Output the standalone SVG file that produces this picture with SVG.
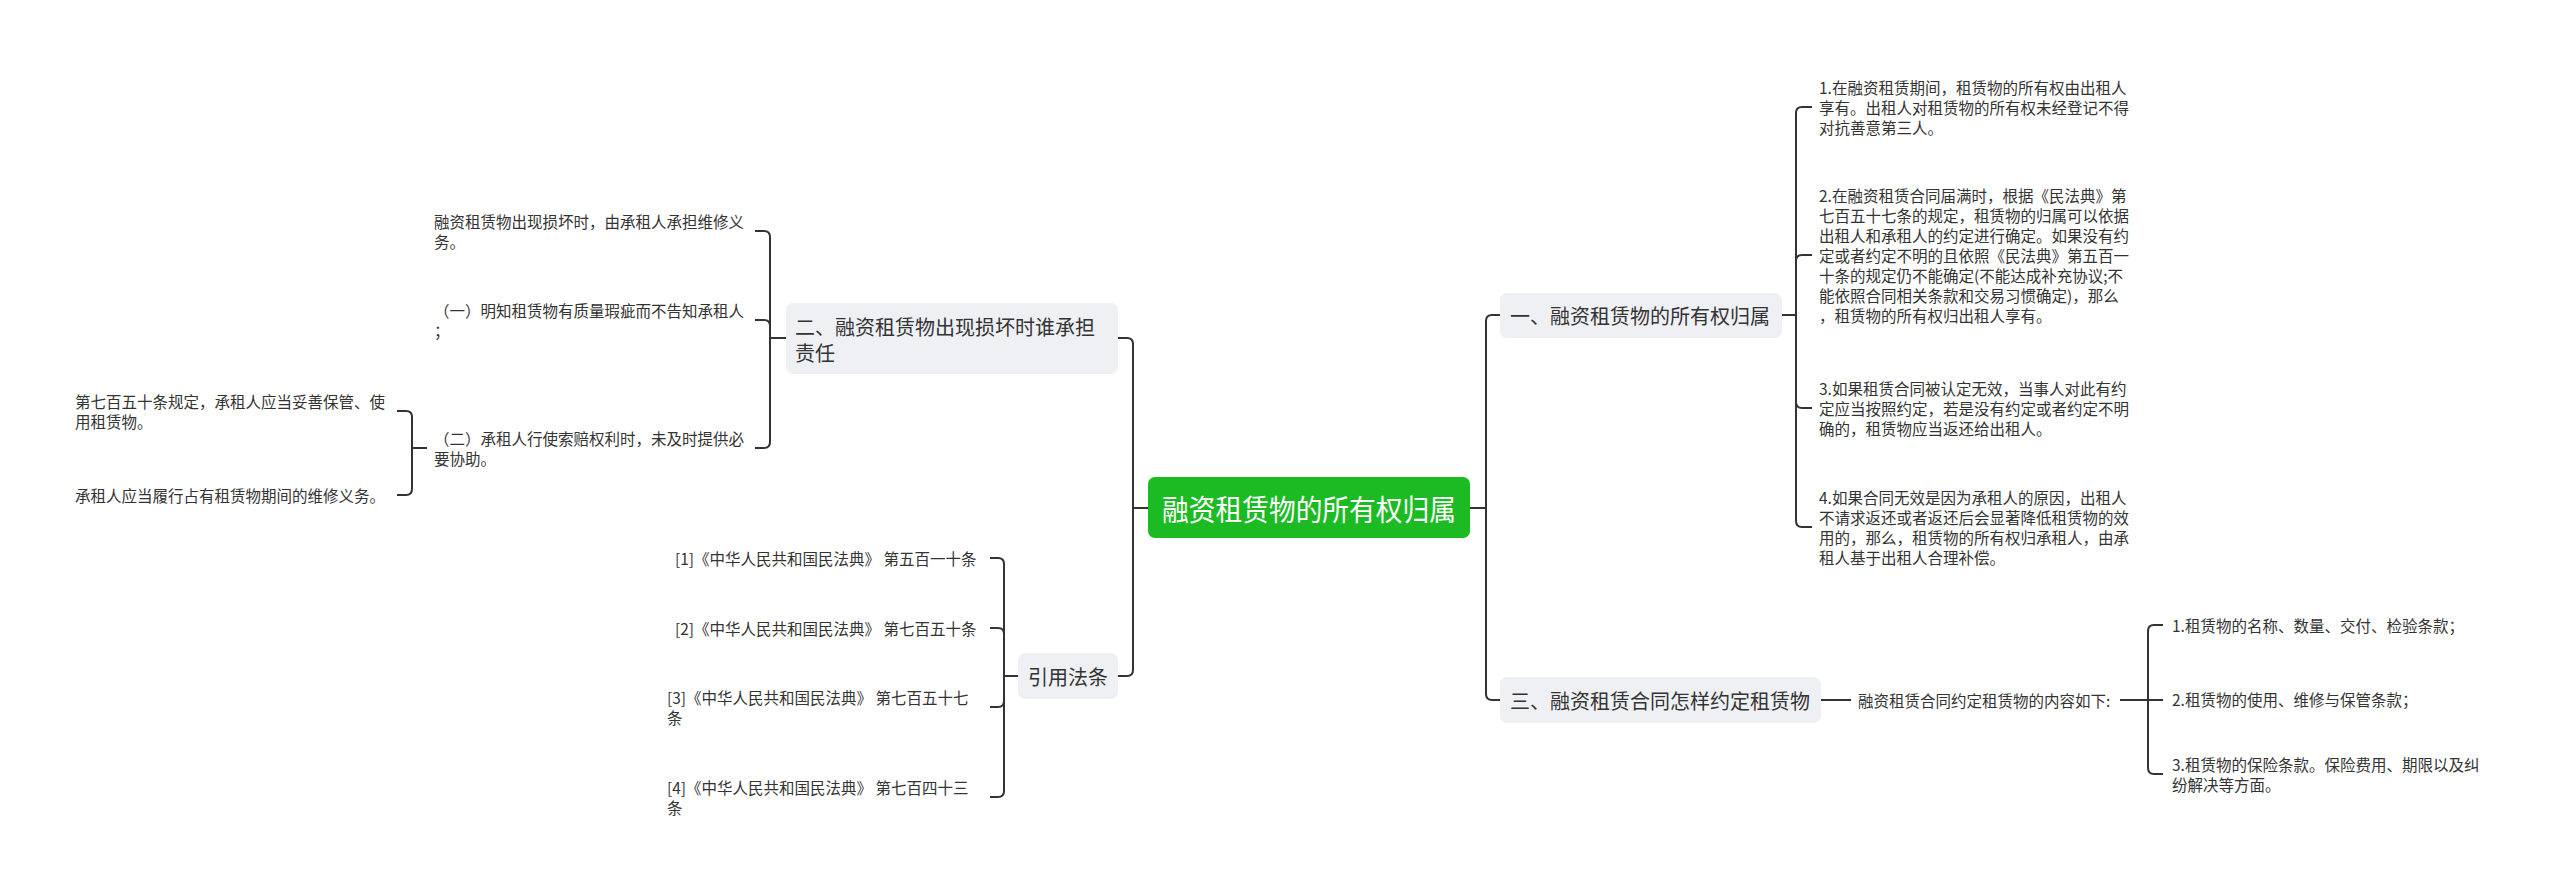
<svg xmlns="http://www.w3.org/2000/svg" width="2560" height="891" viewBox="0 0 2560 891">
<style>
text{font-family:"Noto Sans CJK SC","Noto Sans",sans-serif;fill:#333;dominant-baseline:central}
.s{font-size:15.5px}
.m{font-size:20px}
.root{font-size:29px;fill:#fff}
.box{fill:#eef0f3}
.c path{fill:none;stroke:#333;stroke-width:2}
</style>
<rect width="2560" height="891" fill="#fff"/>
<g class="c" id="connectors">
<path d="M1470 508 H1486"/>
<path d="M1486 508 V321 Q1486 315 1492 315 H1500"/>
<path d="M1486 508 V694 Q1486 700 1492 700 H1500"/>
<path d="M1782 315 H1796"/>
<path d="M1796 315 V113 Q1796 107 1802 107 H1812"/>
<path d="M1796 315 V261 Q1796 255 1802 255 H1812"/>
<path d="M1796 315 V402 Q1796 408 1802 408 H1812"/>
<path d="M1796 315 V521 Q1796 527 1802 527 H1812"/>
<path d="M1821 700 H1851"/>
<path d="M2120 700 H2148"/>
<path d="M2148 700 V631 Q2148 625 2154 625 H2163"/>
<path d="M2148 700 H2163"/>
<path d="M2148 700 V768 Q2148 774 2154 774 H2163"/>
<path d="M1148 508 H1133"/>
<path d="M1133 508 V344 Q1133 338 1127 338 H1118"/>
<path d="M1133 508 V670 Q1133 676 1127 676 H1118"/>
<path d="M786 338 H770"/>
<path d="M770 338 V237 Q770 231 764 231 H755"/>
<path d="M770 338 V326 Q770 320 764 320 H755"/>
<path d="M770 338 V442 Q770 448 764 448 H755"/>
<path d="M427 448 H412"/>
<path d="M412 448 V417 Q412 411 406 411 H397"/>
<path d="M412 448 V489 Q412 495 406 495 H397"/>
<path d="M1018 676 H1004"/>
<path d="M1004 676 V564 Q1004 558 998 558 H990"/>
<path d="M1004 676 V634 Q1004 628 998 628 H990"/>
<path d="M1004 676 V701 Q1004 707 998 707 H990"/>
<path d="M1004 676 V791 Q1004 797 998 797 H990"/>
</g>
<g id="root">
<rect x="1148" y="477" width="322" height="61" rx="7" fill="#1cbb24"/>
<text class="root" x="1162" y="508" textLength="294" lengthAdjust="spacingAndGlyphs">融资租赁物的所有权归属</text>
</g>
<g id="n1">
<rect class="box" x="1500" y="293" width="282" height="45" rx="7"/>
<text class="m" x="1510" y="315.5">一、融资租赁物的所有权归属</text>
</g>
<g id="n1a">
<text class="s" x="1819" y="87">1.在融资租赁期间，租赁物的所有权由出租人</text>
<text class="s" x="1819" y="107">享有。出租人对租赁物的所有权未经登记不得</text>
<text class="s" x="1819" y="127">对抗善意第三人。</text>
</g>
<g id="n1b">
<text class="s" x="1819" y="195">2.在融资租赁合同届满时，根据《民法典》第</text>
<text class="s" x="1819" y="215">七百五十七条的规定，租赁物的归属可以依据</text>
<text class="s" x="1819" y="235">出租人和承租人的约定进行确定。如果没有约</text>
<text class="s" x="1819" y="255">定或者约定不明的且依照《民法典》第五百一</text>
<text class="s" x="1819" y="275">十条的规定仍不能确定(不能达成补充协议;不</text>
<text class="s" x="1819" y="295">能依照合同相关条款和交易习惯确定)，那么</text>
<text class="s" x="1819" y="315">，租赁物的所有权归出租人享有。</text>
</g>
<g id="n1c">
<text class="s" x="1819" y="388">3.如果租赁合同被认定无效，当事人对此有约</text>
<text class="s" x="1819" y="408">定应当按照约定，若是没有约定或者约定不明</text>
<text class="s" x="1819" y="428">确的，租赁物应当返还给出租人。</text>
</g>
<g id="n1d">
<text class="s" x="1819" y="497">4.如果合同无效是因为承租人的原因，出租人</text>
<text class="s" x="1819" y="517">不请求返还或者返还后会显著降低租赁物的效</text>
<text class="s" x="1819" y="537">用的，那么，租赁物的所有权归承租人，由承</text>
<text class="s" x="1819" y="557">租人基于出租人合理补偿。</text>
</g>
<g id="n3">
<rect class="box" x="1500" y="677" width="321" height="46" rx="7"/>
<text class="m" x="1510" y="700">三、融资租赁合同怎样约定租赁物</text>
</g>
<g id="n3a">
<text class="s" x="1858" y="700">融资租赁合同约定租赁物的内容如下:</text>
</g>
<g id="n3a1">
<text class="s" x="2172" y="625">1.租赁物的名称、数量、交付、检验条款；</text>
</g>
<g id="n3a2">
<text class="s" x="2172" y="699">2.租赁物的使用、维修与保管条款；</text>
</g>
<g id="n3a3">
<text class="s" x="2172" y="764">3.租赁物的保险条款。保险费用、期限以及纠</text>
<text class="s" x="2172" y="784">纷解决等方面。</text>
</g>
<g id="n2">
<rect class="box" x="786" y="303" width="332" height="71" rx="7"/>
<text class="m" x="795" y="326">二、融资租赁物出现损坏时谁承担</text>
<text class="m" x="795" y="352">责任</text>
</g>
<g id="n2a">
<text class="s" x="434" y="221">融资租赁物出现损坏时，由承租人承担维修义</text>
<text class="s" x="434" y="241">务。</text>
</g>
<g id="n2b">
<text class="s" x="434" y="310">（一）明知租赁物有质量瑕疵而不告知承租人</text>
<text class="s" x="434" y="330">；</text>
</g>
<g id="n2c">
<text class="s" x="434" y="438">（二）承租人行使索赔权利时，未及时提供必</text>
<text class="s" x="434" y="458">要协助。</text>
</g>
<g id="n2c1">
<text class="s" x="75" y="401">第七百五十条规定，承租人应当妥善保管、使</text>
<text class="s" x="75" y="421">用租赁物。</text>
</g>
<g id="n2c2">
<text class="s" x="75" y="495">承租人应当履行占有租赁物期间的维修义务。</text>
</g>
<g id="n4">
<rect class="box" x="1018" y="653" width="100" height="46" rx="7"/>
<text class="m" x="1028" y="676">引用法条</text>
</g>
<g id="n4a"><text class="s" x="675" y="558">[1]《中华人民共和国民法典》 第五百一十条</text></g>
<g id="n4b"><text class="s" x="675" y="628">[2]《中华人民共和国民法典》 第七百五十条</text></g>
<g id="n4c">
<text class="s" x="667" y="697">[3]《中华人民共和国民法典》 第七百五十七</text>
<text class="s" x="667" y="717">条</text>
</g>
<g id="n4d">
<text class="s" x="667" y="787">[4]《中华人民共和国民法典》 第七百四十三</text>
<text class="s" x="667" y="807">条</text>
</g>
</svg>
